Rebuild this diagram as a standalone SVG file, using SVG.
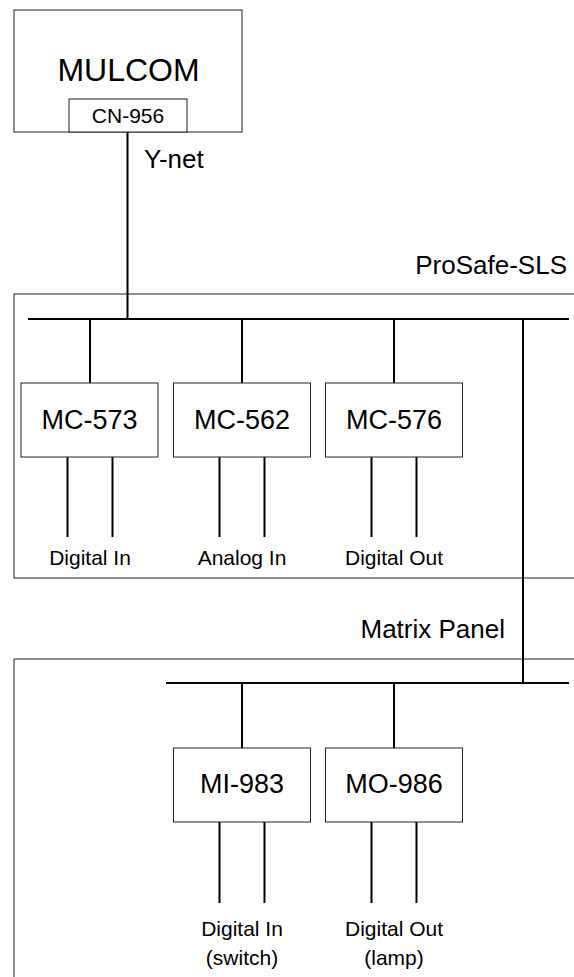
<svg xmlns="http://www.w3.org/2000/svg" width="574" height="977" viewBox="0 0 574 977">
<style>
.box{fill:#fff;stroke:#222;stroke-width:1}
.frame{fill:none;stroke:#222;stroke-width:1}
.ln{stroke:#000;stroke-width:2;fill:none}
text{font-family:"Liberation Sans",Arial,sans-serif;fill:#000}
.big{font-size:32px;text-anchor:middle}
.mod{font-size:27px;text-anchor:middle}
.grp{font-size:26px}
.sm{font-size:21px;text-anchor:middle}
</style>
<rect width="574" height="977" fill="#fff"/>
<g id="prosafe-frame">
<rect class="frame" x="14" y="294" width="570" height="284"/>
<text class="grp" x="567" y="274" text-anchor="end">ProSafe-SLS</text>
</g>
<g id="matrix-frame">
<rect class="frame" x="14" y="659" width="570" height="330"/>
<text class="grp" x="505" y="638" text-anchor="end">Matrix Panel</text>
</g>
<g id="connectors">
<line class="ln" x1="127.5" y1="132" x2="127.5" y2="319"/>
<line class="ln" x1="28" y1="319" x2="569" y2="319"/>
<line class="ln" x1="90" y1="319" x2="90" y2="383"/>
<line class="ln" x1="242" y1="319" x2="242" y2="383"/>
<line class="ln" x1="394" y1="319" x2="394" y2="383"/>
<line class="ln" x1="523" y1="319" x2="523" y2="683"/>
<line class="ln" x1="166" y1="683" x2="569" y2="683"/>
<line class="ln" x1="242" y1="683" x2="242" y2="748"/>
<line class="ln" x1="394" y1="683" x2="394" y2="748"/>
<line class="ln" x1="67.5" y1="457" x2="67.5" y2="537"/>
<line class="ln" x1="112.5" y1="457" x2="112.5" y2="537"/>
<line class="ln" x1="219.5" y1="457" x2="219.5" y2="537"/>
<line class="ln" x1="264.5" y1="457" x2="264.5" y2="537"/>
<line class="ln" x1="371.5" y1="457" x2="371.5" y2="537"/>
<line class="ln" x1="416.5" y1="457" x2="416.5" y2="537"/>
<line class="ln" x1="219.5" y1="822" x2="219.5" y2="903"/>
<line class="ln" x1="264.5" y1="822" x2="264.5" y2="903"/>
<line class="ln" x1="371.5" y1="822" x2="371.5" y2="903"/>
<line class="ln" x1="416.5" y1="822" x2="416.5" y2="903"/>
</g>
<g id="mulcom">
<rect class="box" x="14" y="10" width="228" height="122"/>
<text class="big" x="128.5" y="81">MULCOM</text>
</g>
<g id="cn956">
<rect class="box" x="69" y="99" width="118" height="33"/>
<text class="sm" x="128" y="123">CN-956</text>
</g>
<g id="ynet-label">
<text class="grp" x="144" y="168">Y-net</text>
</g>
<g id="mc573">
<rect class="box" x="21" y="383" width="137" height="74"/>
<text class="mod" x="89.5" y="429">MC-573</text>
</g>
<g id="mc562">
<rect class="box" x="173.5" y="383" width="137" height="74"/>
<text class="mod" x="242" y="429">MC-562</text>
</g>
<g id="mc576">
<rect class="box" x="325.5" y="383" width="137" height="74"/>
<text class="mod" x="394" y="429">MC-576</text>
</g>
<g id="mi983">
<rect class="box" x="173.5" y="748" width="137" height="74"/>
<text class="mod" x="242" y="793">MI-983</text>
</g>
<g id="mo986">
<rect class="box" x="325.5" y="748" width="137" height="74"/>
<text class="mod" x="394" y="793">MO-986</text>
</g>
<g id="io-labels">
<text class="sm" x="90" y="565">Digital In</text>
<text class="sm" x="242" y="565">Analog In</text>
<text class="sm" x="394" y="565">Digital Out</text>
<text class="sm" x="242" y="936">Digital In</text>
<text class="sm" x="242" y="965">(switch)</text>
<text class="sm" x="394" y="936">Digital Out</text>
<text class="sm" x="394" y="965">(lamp)</text>
</g>
</svg>
